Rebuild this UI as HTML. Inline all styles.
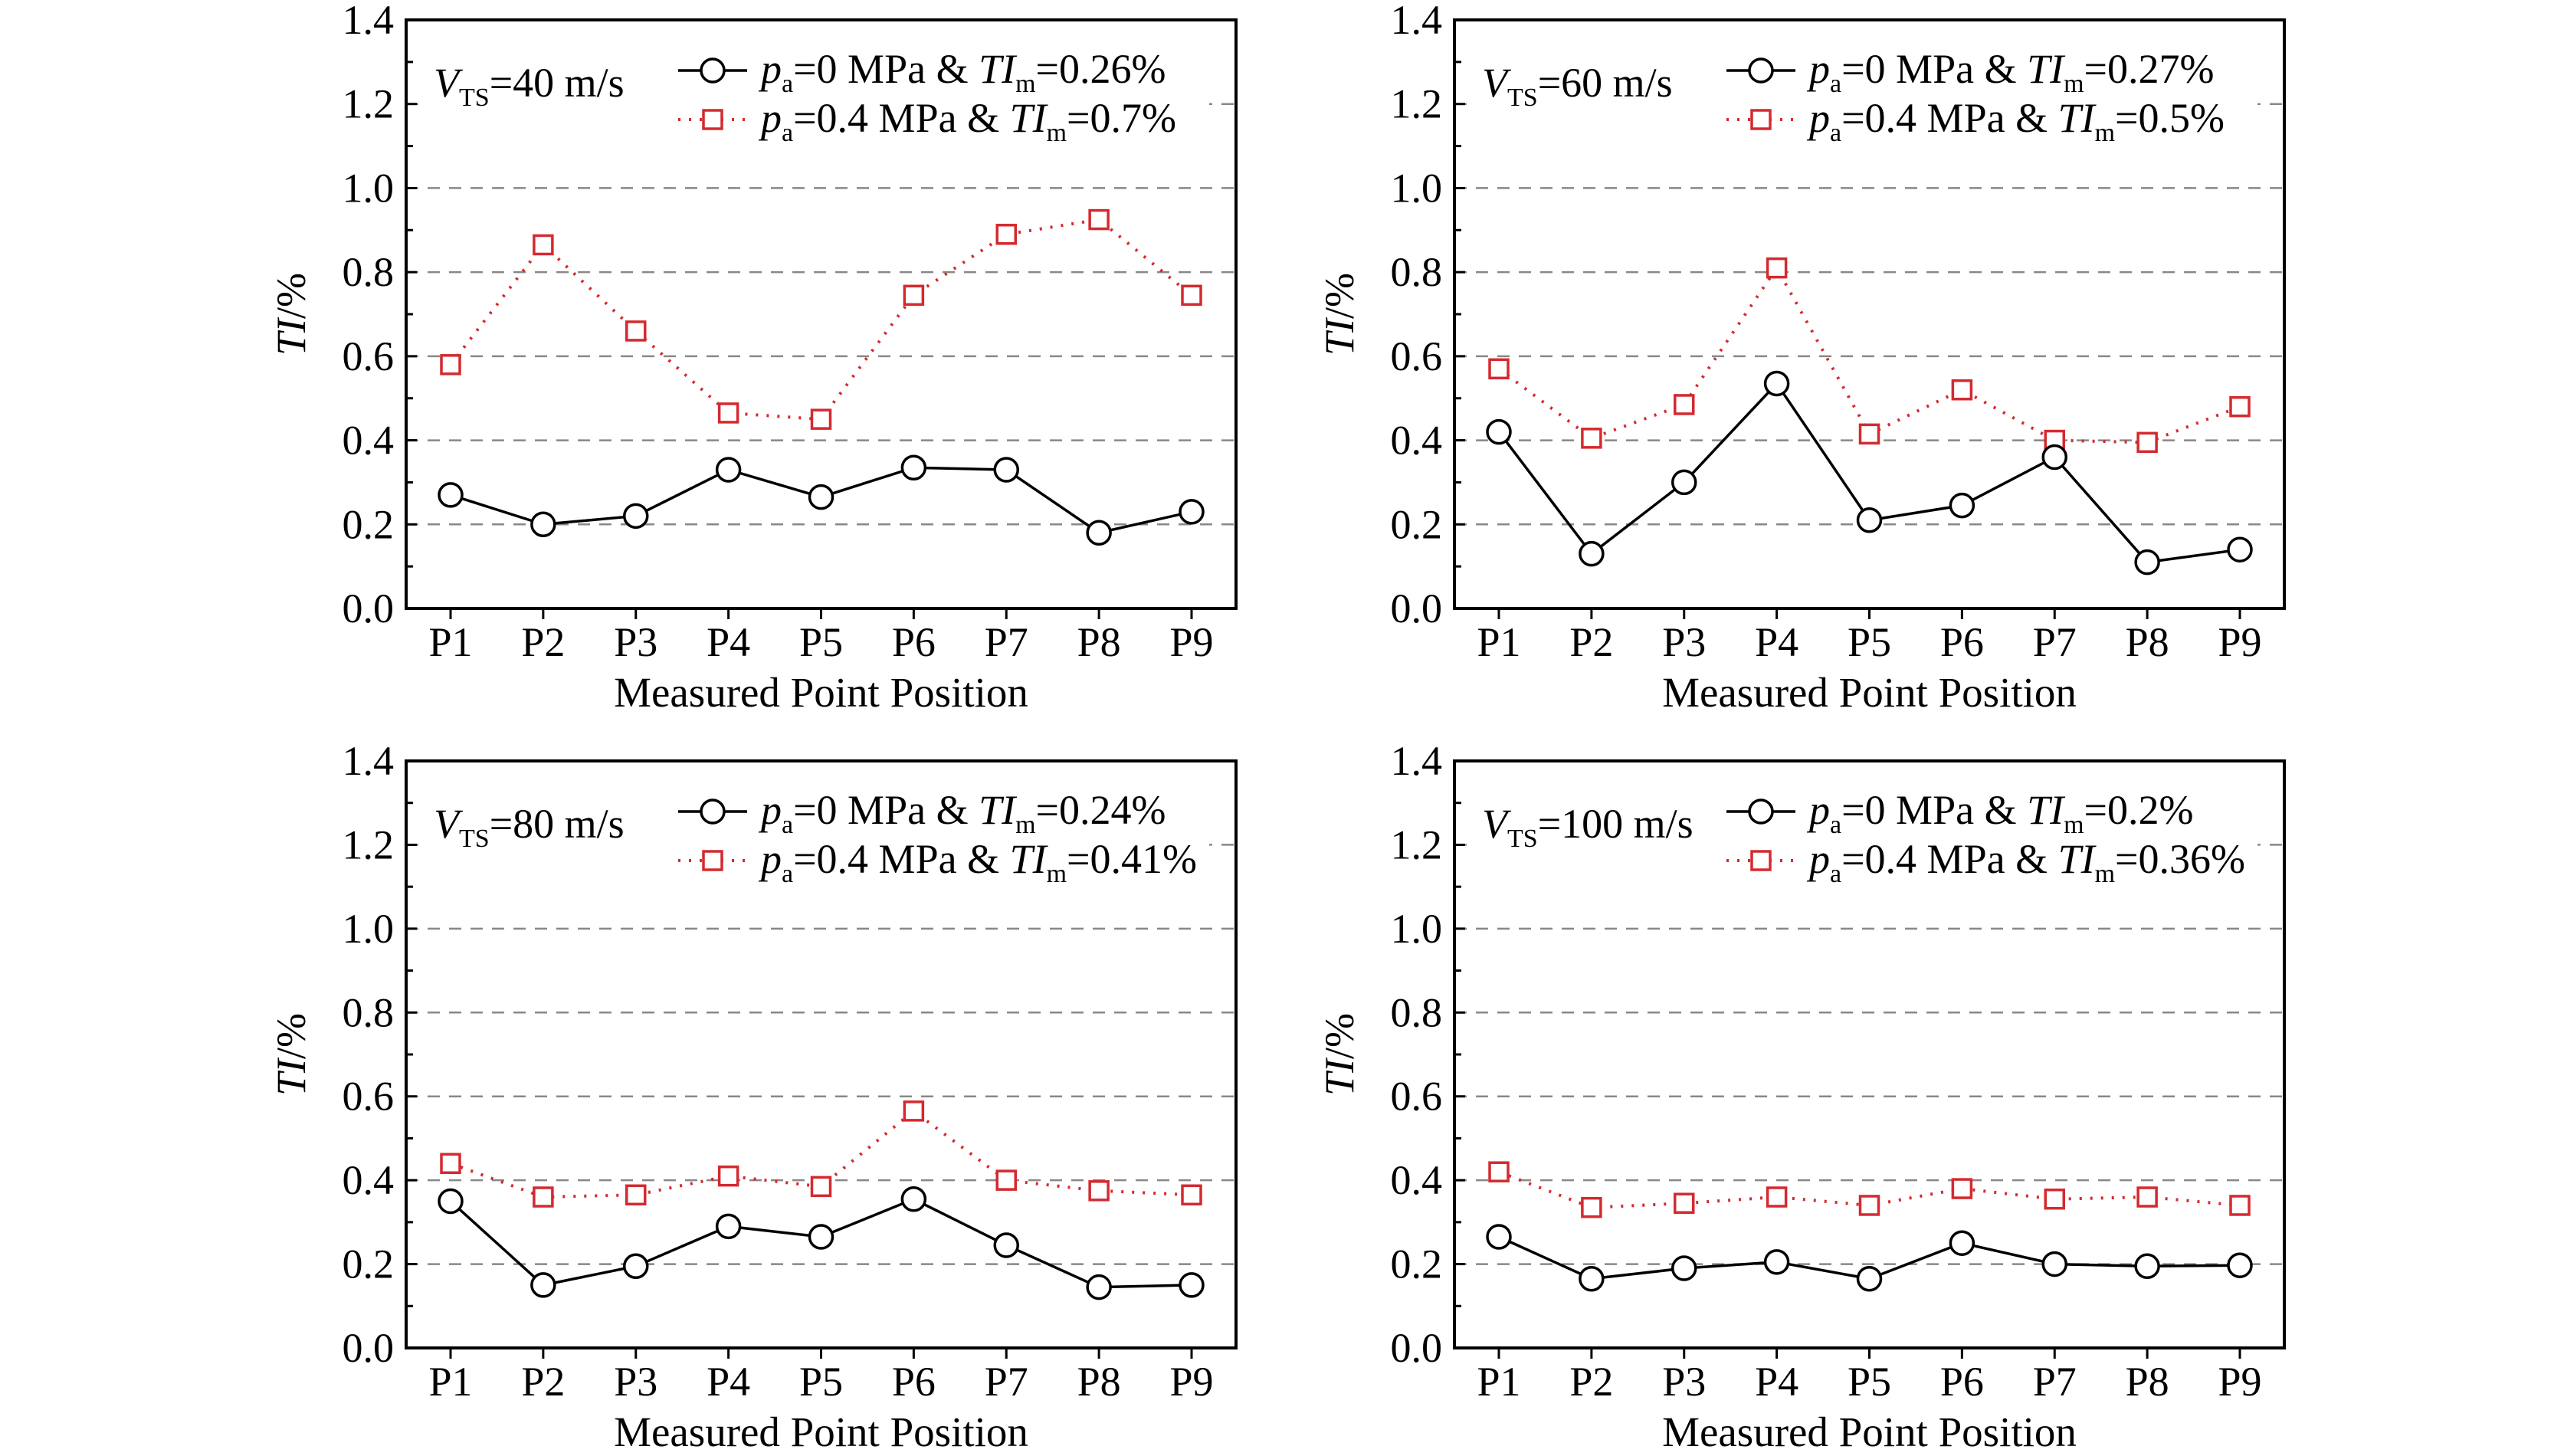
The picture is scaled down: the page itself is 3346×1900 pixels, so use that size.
<!DOCTYPE html>
<html><head><meta charset="utf-8"><style>
html,body{margin:0;padding:0;background:#fff;}
svg, svg text{font-family:"Liberation Serif","DejaVu Serif",serif;}
svg{display:block;}
</style></head><body>
<svg id="fig" width="3346" height="1900" viewBox="0 0 3346 1900" xmlns="http://www.w3.org/2000/svg" font-family="Liberation Serif, serif"></svg>
<script>
const categories = ["P1","P2","P3","P4","P5","P6","P7","P8","P9"];
const yTicks = [0.0,0.2,0.4,0.6,0.8,1.0,1.2,1.4];
const yTickLabels = ["0.0","0.2","0.4","0.6","0.8","1.0","1.2","1.4"];
const speedLabels = ["40","60","80","100"];
const blackLegendTI = ["0.26","0.27","0.24","0.2"];
const redLegendTI = ["0.7","0.5","0.41","0.36"];
const black40 = [0.27,0.20,0.22,0.33,0.265,0.335,0.33,0.18,0.23];
const red40 = [0.58,0.865,0.66,0.465,0.45,0.745,0.89,0.925,0.745];
const black60 = [0.42,0.13,0.30,0.535,0.21,0.245,0.36,0.11,0.14];
const red60 = [0.57,0.405,0.485,0.81,0.415,0.52,0.40,0.395,0.48];
const black80 = [0.35,0.15,0.195,0.29,0.265,0.355,0.245,0.145,0.15];
const red80 = [0.44,0.36,0.365,0.41,0.385,0.565,0.40,0.375,0.365];
const black100 = [0.265,0.165,0.19,0.205,0.165,0.25,0.20,0.195,0.197];
const red100 = [0.42,0.335,0.345,0.36,0.34,0.38,0.355,0.36,0.34];
const blackSeries = [black40,black60,black80,black100];
const redSeries = [red40,red60,red80,red100];

const NS="http://www.w3.org/2000/svg";
const svg=document.getElementById('fig');
const FF='Liberation Serif, DejaVu Serif, serif';
function mk(tag,attrs,parent){const e=document.createElementNS(NS,tag);for(const k in attrs)e.setAttribute(k,attrs[k]);if(tag==='text')e.setAttribute('font-family',FF);(parent||svg).appendChild(e);return e;}
const panels=[{x0:530,x1:1613,y0:26,y1:794},{x0:1898,x1:2981,y0:26,y1:794},{x0:530,x1:1613,y0:993,y1:1759},{x0:1898,x1:2981,y0:993,y1:1759}];

panels.forEach((p,pi)=>{
  const g=mk('g',{});
  
  
  const W=p.x1-p.x0, H=p.y1-p.y0;
  const xs=i=>p.x0+58+i*(W-116)/(categories.length-1);
  const ys=v=>p.y1-v/1.4*H;
  yTicks.forEach((t,i)=>{
    if(t>0&&t<1.4){const l=mk('line',{x1:p.x0,x2:p.x1,y1:ys(t),y2:ys(t),stroke:'#888','stroke-width':2.5,'stroke-dasharray':'16,12'},g);
    }
    const tk=mk('line',{x1:p.x0,x2:p.x0+14,y1:ys(t),y2:ys(t),stroke:'#000','stroke-width':3},g);
    
    if(i<yTicks.length-1){const m=mk('line',{x1:p.x0,x2:p.x0+9,y1:ys(t+0.1),y2:ys(t+0.1),stroke:'#000','stroke-width':3},g);
    }
    const tl=mk('text',{x:p.x0-16,y:ys(t)+18,'text-anchor':'end','font-size':54},g);
    tl.textContent=yTickLabels[i];
    
  });
  mk('rect',{x:p.x0+25,y:p.y0+90,width:W-60,height:80,fill:'#fff'},g);
  const fr=mk('rect',{x:p.x0,y:p.y0,width:W,height:H,fill:'none',stroke:'#000','stroke-width':4},g);
  
  categories.forEach((c,i)=>{
    const tk=mk('line',{x1:xs(i),x2:xs(i),y1:p.y1,y2:p.y1+14,stroke:'#000','stroke-width':3},g);
    
    const t=mk('text',{x:xs(i),y:p.y1+62,'text-anchor':'middle','font-size':54},g);
    t.textContent=c;
    
  });
  const xt=mk('text',{x:(p.x0+p.x1)/2,y:p.y1+128,'text-anchor':'middle','font-size':55},g);
  xt.textContent='Measured Point Position';
  
  const yt=mk('text',{x:0,y:0,'text-anchor':'middle','font-size':54,transform:`translate(${p.x0-132},${(p.y0+p.y1)/2}) rotate(-90)`},g);
  yt.innerHTML='<tspan font-style="italic">TI</tspan>/%';
  
  const rd=redSeries[pi], bk=blackSeries[pi];
  const rl=mk('polyline',{points:rd.map((v,i)=>xs(i)+','+ys(v)).join(' '),fill:'none',stroke:'#d42a2f','stroke-width':4,'stroke-dasharray':'3,11'},g);
  
  const bl=mk('polyline',{points:bk.map((v,i)=>xs(i)+','+ys(v)).join(' '),fill:'none',stroke:'#000','stroke-width':3.5},g);
  
  rd.forEach((v,i)=>{const r=mk('rect',{x:xs(i)-12,y:ys(v)-12,width:24,height:24,fill:'#fff',stroke:'#d42a2f','stroke-width':3.5},g);
    });
  bk.forEach((v,i)=>{const c=mk('circle',{cx:xs(i),cy:ys(v),r:15,fill:'#fff',stroke:'#000','stroke-width':3.5},g);
    });
  const vt=mk('text',{x:p.x0+36,y:p.y0+100,'font-size':54},g);
  vt.innerHTML='<tspan font-style="italic">V</tspan><tspan font-size="34" dy="12">TS</tspan><tspan dy="-12">='+speedLabels[pi]+' m/s</tspan>';
  
  const lx=p.x0+355, ly1=p.y0+62, ly2=p.y0+126;
  const lg=mk('g',{},g);
  
  mk('line',{x1:lx,x2:lx+90,y1:ly1+4,y2:ly1+4,stroke:'#000','stroke-width':3.5},lg);
  mk('circle',{cx:lx+45,cy:ly1+4,r:15,fill:'#fff',stroke:'#000','stroke-width':3.5},lg);
  mk('line',{x1:lx,x2:lx+90,y1:ly2+4,y2:ly2+4,stroke:'#d42a2f','stroke-width':4,'stroke-dasharray':'3,11'},lg);
  mk('rect',{x:lx+33,y:ly2-8,width:24,height:24,fill:'#fff',stroke:'#d42a2f','stroke-width':3.5},lg);
  const t1=mk('text',{x:lx+108,y:ly1+20,'font-size':54},lg);
  t1.innerHTML='<tspan font-style="italic">p</tspan><tspan font-size="34" dy="12">a</tspan><tspan dy="-12">=0 MPa &amp; </tspan><tspan font-style="italic">TI</tspan><tspan font-size="34" dy="12">m</tspan><tspan dy="-12">='+blackLegendTI[pi]+'%</tspan>';
  
  const t2=mk('text',{x:lx+108,y:ly2+20,'font-size':54},lg);
  t2.innerHTML='<tspan font-style="italic">p</tspan><tspan font-size="34" dy="12">a</tspan><tspan dy="-12">=0.4 MPa &amp; </tspan><tspan font-style="italic">TI</tspan><tspan font-size="34" dy="12">m</tspan><tspan dy="-12">='+redLegendTI[pi]+'%</tspan>';
  
});
</script>
</body></html>
